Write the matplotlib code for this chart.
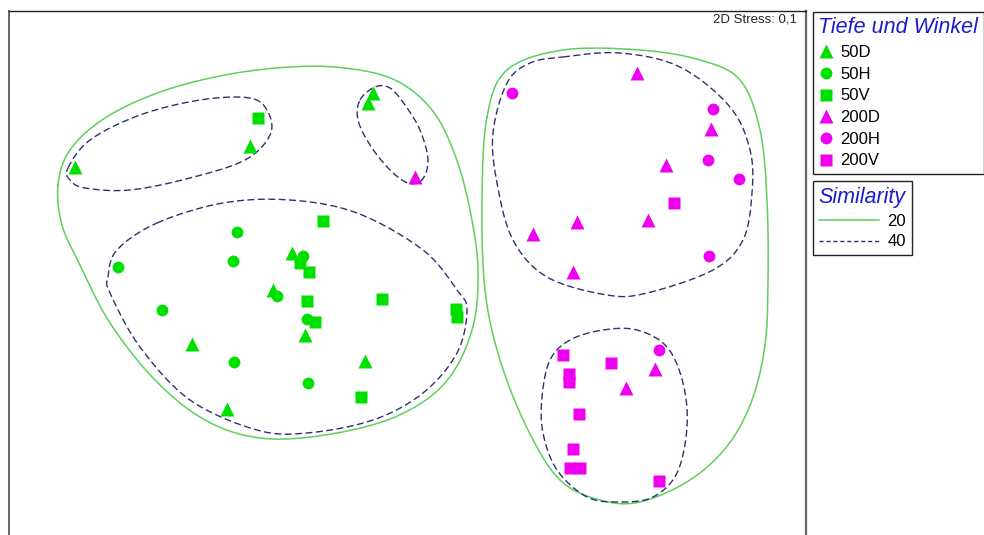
import numpy as np
import matplotlib.pyplot as plt
from matplotlib.lines import Line2D

plt.rcParams["font.family"] = ["Liberation Sans", "DejaVu Sans"]

# MDS-Koordinaten (Bildraum der Ordination, y nach unten)
d50_x = [75, 250, 373, 368, 292, 273, 305, 192, 365, 227]
d50_y = [167, 146, 93, 103, 253, 290, 335, 344, 361, 409]
h50_x = [237, 233, 118, 303, 277, 162, 307, 234, 308]
h50_y = [232, 261, 267, 256, 296, 310, 319, 362, 383]
v50_x = [258, 323, 300, 309, 307, 382, 456, 457, 315, 361]
v50_y = [118, 221, 263, 272, 301, 299, 309, 317, 322, 397]
d200_x = [415, 637, 711, 666, 577, 648, 533, 573, 655, 626]
d200_y = [177, 73, 129, 165, 222, 220, 234, 272, 369, 388]
h200_x = [512, 713, 708, 739, 709, 659]
h200_y = [93, 109, 160, 179, 256, 350]
v200_x = [674, 563, 611, 569, 569, 579, 573, 570, 580, 659]
v200_y = [203, 355, 363, 374, 382, 414, 449, 468, 468, 481]

groups = ["50D", "50H", "50V", "200D", "200H", "200V"]

# Cluster-Umrisse (Similarity 20 / 40)
sim20_left_x = [58, 70, 105, 160, 225, 290, 345, 395, 432, 455, 470, 478, 472, 445, 395, 325, 260, 205, 155, 110, 80, 62]
sim20_left_y = [185, 150, 118, 92, 75, 67, 68, 80, 110, 155, 210, 270, 330, 383, 417, 435, 438, 420, 380, 323, 265, 225]
sim20_right_x = [487, 507, 563, 640, 700, 740, 760, 767, 768, 765, 752, 728, 690, 640, 600, 560, 528, 500, 485, 482]
sim20_right_y = [117, 70, 50, 50, 60, 80, 130, 200, 283, 345, 400, 445, 480, 502, 500, 480, 430, 360, 290, 200]
sim40_a_x = [68, 90, 140, 200, 250, 268, 270, 245, 190, 130, 85, 70]
sim40_a_y = [168, 140, 115, 100, 98, 112, 135, 160, 178, 190, 188, 180]
sim40_b_x = [360, 375, 390, 405, 420, 428, 422, 408, 390, 370, 358]
sim40_b_y = [100, 87, 88, 105, 130, 160, 180, 183, 170, 145, 120]
sim40_c_x = [157, 223, 290, 357, 423, 457, 467, 457, 423, 373, 307, 257, 190, 140, 110, 108, 117]
sim40_c_y = [223, 203, 200, 213, 250, 290, 310, 353, 393, 420, 433, 430, 400, 347, 293, 277, 250]
sim40_d_x = [563, 620, 680, 730, 750, 752, 743, 713, 647, 607, 547, 513, 497, 493, 507, 530]
sim40_d_y = [57, 53, 67, 107, 150, 193, 240, 270, 293, 295, 277, 240, 183, 133, 83, 63]
sim40_e_x = [603, 637, 667, 683, 687, 677, 653, 620, 587, 557, 543, 542, 550, 570]
sim40_e_y = [330, 330, 347, 383, 427, 473, 497, 502, 497, 470, 433, 397, 360, 340]


def closed_curve(xs, ys, n=30):
    # geschlossene Catmull-Rom-Kurve durch die Umrisspunkte
    P = np.column_stack([xs, ys]).astype(float)
    m = len(P)
    t = np.linspace(0, 1, n, endpoint=False)[:, None]
    out = []
    for i in range(m):
        p0, p1, p2, p3 = P[i - 1], P[i], P[(i + 1) % m], P[(i + 2) % m]
        out.append(0.5 * (2 * p1 + (-p0 + p2) * t + (2 * p0 - 5 * p1 + 4 * p2 - p3) * t ** 2
                          + (-p0 + 3 * p1 - 3 * p2 + p3) * t ** 3))
    out = np.vstack(out + [out[0][:1]])
    return out[:, 0], out[:, 1]


green = "#00e000"
magenta = "#f000f0"
c20 = "#5fcf5f"
c40 = "#30306e"

fig = plt.figure(figsize=(9.84, 5.35), dpi=100)
ax = fig.add_axes([9 / 984, 0, (806 - 9) / 984, (535 - 11) / 535])
ax.set_xlim(9, 806)
ax.set_ylim(535, 11)
ax.set_xticks([])
ax.set_yticks([])
ax.spines["bottom"].set_visible(False)
ax.spines["top"].set_color("#222222")
ax.spines["top"].set_linewidth(1.0)
ax.spines["left"].set_color("#666666")
ax.spines["left"].set_linewidth(1.4)
ax.spines["right"].set_color("#666666")
ax.spines["right"].set_linewidth(1.6)

for xs, ys in [(sim20_left_x, sim20_left_y), (sim20_right_x, sim20_right_y)]:
    cx, cy = closed_curve(xs, ys)
    ax.plot(cx, cy, color=c20, lw=1.1)
for xs, ys in [(sim40_a_x, sim40_a_y), (sim40_b_x, sim40_b_y), (sim40_c_x, sim40_c_y),
               (sim40_d_x, sim40_d_y), (sim40_e_x, sim40_e_y)]:
    cx, cy = closed_curve(xs, ys)
    ax.plot(cx, cy, color=c40, lw=1.0, dashes=(5, 2.5))

series = [
    (d50_x, d50_y, "^", green, 9.5),
    (h50_x, h50_y, "o", green, 8.5),
    (v50_x, v50_y, "s", green, 8),
    (d200_x, d200_y, "^", magenta, 9.5),
    (h200_x, h200_y, "o", magenta, 8.5),
    (v200_x, v200_y, "s", magenta, 8),
]
handles = []
for (xs, ys, mk, col, ms), name in zip(series, groups):
    ax.plot(xs, ys, ls="none", marker=mk, color=col, ms=ms, mec="none")
    handles.append(Line2D([], [], ls="none", marker=mk, color=col, ms=ms, mec="none", label=name))

ax.text(797, 19, "2D Stress: 0,1", ha="right", va="center", fontsize=9.5, color="#222222")

leg1 = ax.legend(handles=handles, title="Tiefe und Winkel", loc="upper left",
                 bbox_to_anchor=(813 / 984, 1 - 12 / 535), bbox_transform=fig.transFigure,
                 borderaxespad=0, fontsize=12, handlelength=0.9, handletextpad=0.4,
                 labelspacing=0.4, borderpad=0.32, fancybox=False, framealpha=1,
                 edgecolor="#222222", alignment="left")
leg1.get_title().set_fontsize(15.5)
leg1.get_title().set_style("italic")
leg1.get_title().set_color("#1c1ccc")
leg1.get_frame().set_linewidth(1.0)
ax.add_artist(leg1)

sim_handles = [Line2D([], [], color=c20, lw=1.1, label="20"),
               Line2D([], [], color=c40, lw=1.0, dashes=(3, 2), label="40")]
leg2 = ax.legend(handles=sim_handles, title="Similarity", loc="upper left",
                 bbox_to_anchor=(813 / 984, 1 - 181 / 535), bbox_transform=fig.transFigure,
                 borderaxespad=0, fontsize=12, handlelength=3.6, handletextpad=0.5,
                 labelspacing=0.35, borderpad=0.35, fancybox=False, framealpha=1,
                 edgecolor="#222222", alignment="left")
leg2.get_title().set_fontsize(15.5)
leg2.get_title().set_style("italic")
leg2.get_title().set_color("#1c1ccc")
leg2.get_frame().set_linewidth(1.0)

fig.savefig("out.png", dpi=100)
